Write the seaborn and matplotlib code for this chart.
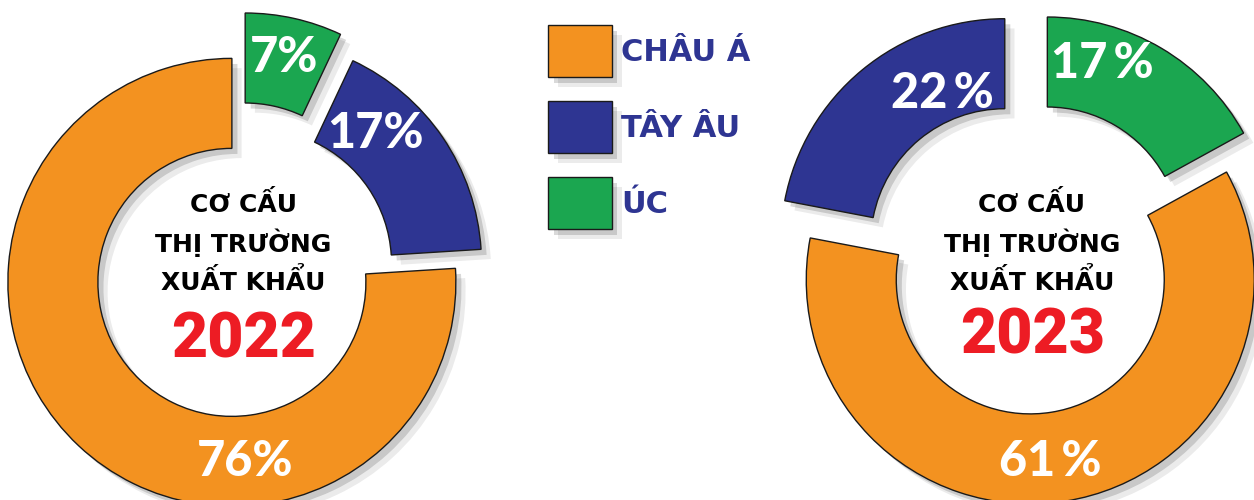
import matplotlib
matplotlib.use("Agg")
import matplotlib.pyplot as plt
import matplotlib.patheffects as pe
import seaborn as sns

# data
markets = ["CHÂU Á", "TÂY ÂU", "ÚC"]
share_2022 = [76, 17, 7]
share_2023 = [61, 22, 17]
years = ["2022", "2023"]
title_lines = ["CƠ CẤU", "THỊ TRƯỜNG", "XUẤT KHẨU"]

sns.set_theme(style="white")
plt.rcParams["font.family"] = ["DejaVu Sans"]

palette = sns.color_palette(["#F39220", "#2E3592", "#1BA650"])
colors = dict(zip(markets, palette))
text_blue = "#2E3592"
year_red = "#ED1C24"

fig = plt.figure(figsize=(12.54, 5), dpi=100)
ax = fig.add_axes([0, 0, 1, 1])

shadow = [
    pe.SimplePatchShadow(offset=(7, -7), shadow_rgbFace="black", alpha=0.08),
    pe.SimplePatchShadow(offset=(4, -4), shadow_rgbFace="black", alpha=0.15),
    pe.Normal(),
]

R, W = 224, 90


def donut(values, order, center, explode):
    vals = [values[markets.index(m)] for m in order]
    wedges, _ = ax.pie(
        vals, colors=[colors[m] for m in order], startangle=90,
        counterclock=True, radius=R, center=center, explode=explode,
        wedgeprops=dict(width=W, edgecolor="#1a1a1a", linewidth=1.0),
        frame=True,
    )
    for w in wedges:
        w.set_path_effects(shadow)
    return dict(zip(order, wedges))


w22 = donut(share_2022, ["CHÂU Á", "TÂY ÂU", "ÚC"], (236, 222), [6, 26, 42])
w23 = donut(share_2023, ["TÂY ÂU", "CHÂU Á", "ÚC"], (1029, 228), [38, 8, 36])

pct_font = dict(color="white", fontsize=35, fontweight="black",
                family=["Lato", "DejaVu Sans"], ha="center", va="center")

# percentage labels
pos22 = {"CHÂU Á": (245, 38), "TÂY ÂU": (375, 367), "ÚC": (284, 443)}
pos23 = {"CHÂU Á": (1050, 39), "TÂY ÂU": (942, 407), "ÚC": (1102, 436)}
for m, v in zip(markets, share_2022):
    ax.text(*pos22[m], f"{v}%", **pct_font)
for m, v in zip(markets, share_2023):
    ax.text(*pos23[m], f"{v}\u2009%", **pct_font)

# centre titles
for cx, year, yoff in [(243, years[0], 0), (1032, years[1], -4)]:
    for i, line in enumerate(title_lines):
        ax.text(cx, 296 - 39 * i, line, fontsize=18, fontweight="bold",
                color="black", ha="center", va="center")
    ax.text(cx + 1, 159 - yoff, year, fontsize=45, fontweight="black",
            family=["Roboto", "DejaVu Sans"], color=year_red,
            ha="center", va="center")

ax.set_xlim(0, 1254)
ax.set_ylim(0, 500)
ax.set_aspect("equal")
ax.axis("off")

fig.legend(
    handles=[w22[m] for m in markets], labels=markets,
    loc="upper left", bbox_to_anchor=(548 / 1254, 1 - 25 / 500),
    frameon=False, borderpad=0, borderaxespad=0,
    prop=dict(size=22, weight="bold"), labelcolor=text_blue,
    handlelength=2.09, handleheight=2.24, labelspacing=0.79,
    handletextpad=0.3,
)

fig.savefig("out.png", dpi=100, facecolor="white")
